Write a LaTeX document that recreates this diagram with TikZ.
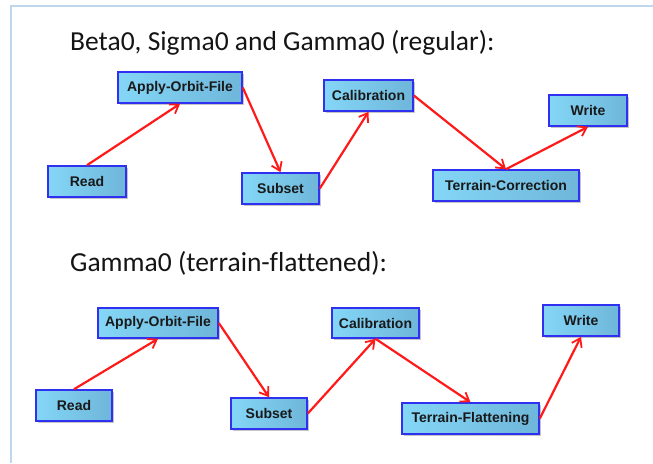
\documentclass[tikz,border=0pt]{standalone}
\usepackage{fontspec}
\setmainfont[Ligatures=NoCommon]{Carlito}
\newfontfamily\boxfont{Liberation Sans}
\usetikzlibrary{arrows.meta,shadows}
\definecolor{framecol}{HTML}{BDD7EE}
\definecolor{boxleft}{HTML}{84D6F7}
\definecolor{boxright}{HTML}{6EB6DA}
\definecolor{boxline}{HTML}{3030F0}
\definecolor{flow}{HTML}{FF1A1A}
\definecolor{titlecol}{HTML}{141414}
\tikzset{
  opbox/.style={draw=boxline, line width=1.6pt, left color=boxleft, right color=boxright,
    inner sep=0pt, anchor=center,
    font=\boxfont\bfseries\fontsize{14}{16}\selectfont, text=black!90,
    drop shadow={shadow xshift=2pt, shadow yshift=-2pt, fill=black!45, opacity=0.5}},
  flowarrow/.style={draw=flow, line width=2.2pt, -{Straight Barb[length=8pt,width=11pt,line width=1.8pt]}},
  heading/.style={anchor=base west, inner sep=0pt, text=titlecol, font=\fontsize{27.5}{31}\selectfont}
}
\begin{document}
\begin{tikzpicture}[x=1pt,y=-1pt]
\useasboundingbox (0,0) rectangle (653,463);
\draw[framecol, line width=2pt] (11,463) coordinate (fl) -- (11,6) coordinate (fc) -- (653,6) coordinate (fr);

% top diagram
\node[heading] (t1) at (70,50) {Beta0, Sigma0 and Gamma0 (regular):};
\node[opbox, minimum width=124pt, minimum height=31pt] (aof1) at (180,87.5) {Apply-Orbit-File};
\node[opbox, minimum width=78pt, minimum height=31pt] (read1) at (87,181.5) {Read};
\node[opbox, minimum width=77pt, minimum height=31pt] (sub1) at (280.5,188.5) {Subset};
\node[opbox, minimum width=89pt, minimum height=31pt] (cal1) at (368.5,95.5) {Calibration};
\node[opbox, minimum width=78pt, minimum height=31pt] (wr1) at (588,110.5) {Write};
\node[opbox, minimum width=146pt, minimum height=31pt] (tc1) at (506,185.5) {Terrain-Correction};
\draw[flowarrow] (read1.north) -- (aof1.south);
\draw[flowarrow] (aof1.east) -- (sub1.north);
\draw[flowarrow] (sub1.east) -- (cal1.south);
\draw[flowarrow] (cal1.east) -- (tc1.north);
\draw[flowarrow] (tc1.north) -- (wr1.south);

% bottom diagram
\node[heading] (t2) at (70,271) {Gamma0 (terrain-flattened):};
\node[opbox, minimum width=120pt, minimum height=30pt] (aof2) at (158,323) {Apply-Orbit-File};
\node[opbox, minimum width=76pt, minimum height=31pt] (read2) at (74,405.5) {Read};
\node[opbox, minimum width=76pt, minimum height=31pt] (sub2) at (269,413.5) {Subset};
\node[opbox, minimum width=87pt, minimum height=30pt] (cal2) at (375.5,323) {Calibration};
\node[opbox, minimum width=76pt, minimum height=31pt] (wr2) at (581,320.5) {Write};
\node[opbox, minimum width=137pt, minimum height=31pt] (tf2) at (470.5,418.5) {Terrain-Flattening};
\draw[flowarrow] (read2.north) -- (aof2.south);
\draw[flowarrow] (aof2.east) -- (sub2.north);
\draw[flowarrow] (sub2.east) -- (cal2.south);
\draw[flowarrow] (cal2.south) -- (tf2.north);
\draw[flowarrow] (tf2.east) -- (wr2.south);
\end{tikzpicture}
\end{document}
